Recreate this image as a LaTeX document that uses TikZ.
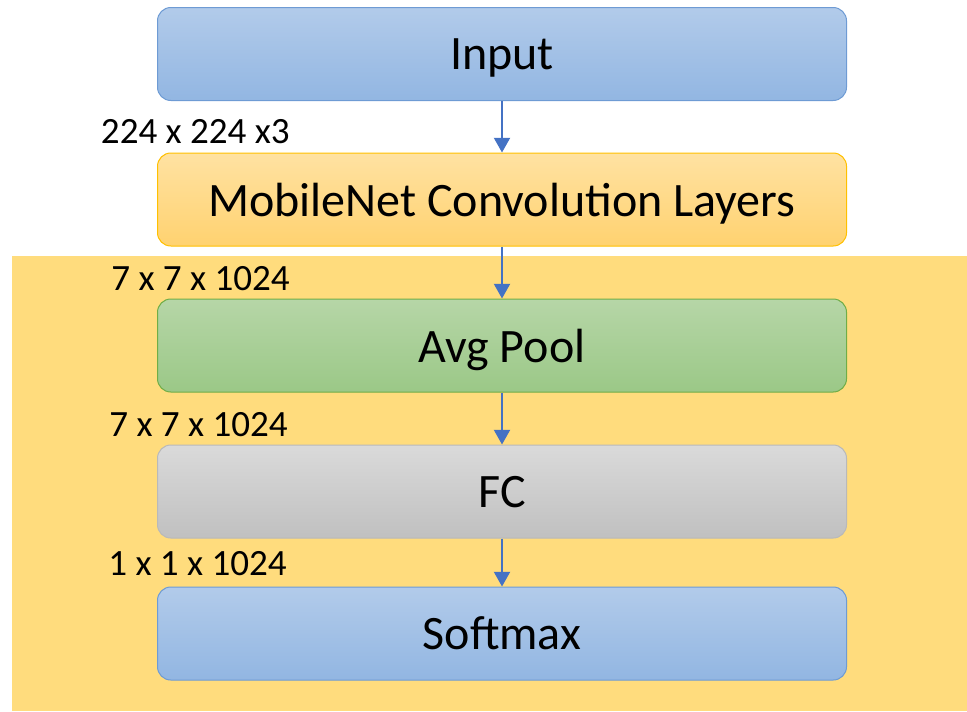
\documentclass[tikz,border=0pt]{standalone}
\usepackage{fontspec}
\setmainfont{Carlito}
\usetikzlibrary{arrows.meta,positioning}
\definecolor{bgyellow}{RGB}{255,220,125}
\definecolor{bluetop}{RGB}{178,203,234}
\definecolor{bluebot}{RGB}{146,182,226}
\definecolor{blueline}{RGB}{110,155,212}
\definecolor{orangetop}{RGB}{255,226,162}
\definecolor{orangebot}{RGB}{255,210,112}
\definecolor{orangeline}{RGB}{255,192,0}
\definecolor{greentop}{RGB}{182,214,167}
\definecolor{greenbot}{RGB}{155,200,135}
\definecolor{greenline}{RGB}{112,173,71}
\definecolor{greytop}{RGB}{218,218,218}
\definecolor{greybot}{RGB}{192,192,192}
\definecolor{greyline}{RGB}{185,185,185}
\definecolor{arrowblue}{RGB}{68,114,196}
\tikzset{
  layer/.style={rounded corners=10pt, minimum width=516.75pt, minimum height=69.75pt, inner sep=0pt, line width=0.75pt, text depth=0pt, font=\fontsize{36}{42}\selectfont},
  bluebox/.style={layer, draw=blueline, top color=bluetop, bottom color=bluebot},
  orangebox/.style={layer, draw=orangeline, top color=orangetop, bottom color=orangebot},
  greenbox/.style={layer, draw=greenline, top color=greentop, bottom color=greenbot},
  greybox/.style={layer, draw=greyline, top color=greytop, bottom color=greybot},
  dimlabel/.style={anchor=east, inner sep=0pt, font=\fontsize{27.8}{32}\selectfont},
  flow/.style={draw=arrowblue, line width=1.5pt, -{Triangle[width=12pt,length=11pt]}}
}
\begin{document}
\begin{tikzpicture}[x=0.75pt,y=-0.75pt]
  \useasboundingbox (0,0) rectangle (967,711);
  % yellow panel behind the head of the network
  \fill[bgyellow] (12,256) rectangle (967,711);

  \node[bluebox] (input) at (502,54) {Input};
  \node[orangebox] (mobilenet) at (502,199.5) {MobileNet Convolution Layers};
  \node[greenbox] (avgpool) at (502,345.5) {Avg Pool};
  \node[greybox] (fc) at (502,491.5) {FC};
  \node[bluebox] (softmax) at (502,633.5) {Softmax};

  % tensor sizes
  \node[dimlabel] (size1) at (290,132) {224 x 224 x3};
  \node[dimlabel] (size2) at (290,279) {7 x 7 x 1024};
  \node[dimlabel] (size3) at (288,425) {7 x 7 x 1024};
  \node[dimlabel] (size4) at (287,564) {1 x 1 x 1024};

  \draw[flow] (input) -- (mobilenet);
  \draw[flow] (mobilenet) -- (avgpool);
  \draw[flow] (avgpool) -- (fc);
  \draw[flow] (fc) -- (softmax);
\end{tikzpicture}
\end{document}
